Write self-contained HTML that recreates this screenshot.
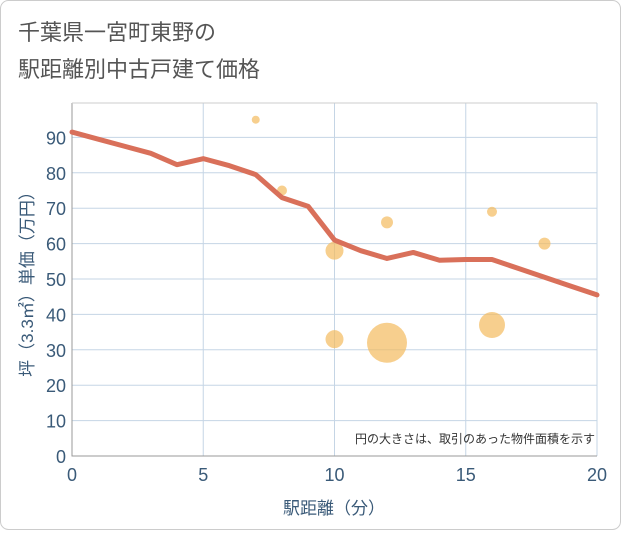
<!DOCTYPE html>
<html><head><meta charset="utf-8">
<style>
body{margin:0;background:#fff;}
#wrap{position:relative;width:621px;height:530px;font-family:"Liberation Sans","Noto Sans CJK JP",sans-serif;}
</style></head><body>
<div id="wrap">
<svg id="chart" width="621" height="530" xmlns="http://www.w3.org/2000/svg">
<rect x="0.5" y="0.5" width="620" height="529" rx="8" fill="#fff" stroke="#ccc"/>
<text x="18" y="40" font-size="22" fill="#555">千葉県一宮町東野の</text>
<text x="18" y="77" font-size="22" fill="#555">駅距離別中古戸建て価格</text>
<g id="grid"></g>
<g id="marks"></g>
<text x="595" y="443" font-size="12" fill="#333" text-anchor="end">円の大きさは、取引のあった物件面積を示す</text>
<text x="334" y="514" font-size="17" fill="#3a5a78" text-anchor="middle">駅距離（分）</text>
<text transform="translate(33,280) rotate(-90)" font-size="17" fill="#3a5a78" text-anchor="middle">坪（3.3㎡）単価（万円）</text>
</svg>
</div>
<script>
const xTicks=[0,5,10,15,20];
const yTicks=[0,10,20,30,40,50,60,70,80,90];
const lineX=[0,1,2,3,4,5,6,7,8,9,10,11,12,13,14,15,16,17,18,19,20];
const lineY=[91.5,89.5,87.5,85.5,82.3,84,82,79.5,73,70.5,61,58,55.8,57.5,55.3,55.5,55.5,53,50.5,48,45.5];
const bubX=[7,8,10,10,12,12,16,16,18];
const bubY=[95,75,58,33,66,32,69,37,60];
const bubR=[4,5,9,9,6,20,5,13,6];
const L=72,R=597,T=103,B=456;
const sx=v=>L+(v-0)/20*(R-L);
const sy=v=>B-v/10*35.4;
const NS='http://www.w3.org/2000/svg';
const g=document.getElementById('grid'),m=document.getElementById('marks');
function mk(tag,at,parent){const e=document.createElementNS(NS,tag);for(const k in at)e.setAttribute(k,at[k]);parent.appendChild(e);return e;}
yTicks.forEach(v=>{
 const l=mk('line',{x1:L,x2:R,y1:sy(v),y2:sy(v),stroke:'#c5d5e5','stroke-width':1},g);
 
 
 const t=mk('text',{x:L-6,y:sy(v)+7,'font-size':18,fill:'#3a5a78','text-anchor':'end'},g);
 t.textContent=v;
 
 
});
xTicks.forEach(v=>{
 const l=mk('line',{x1:sx(v),x2:sx(v),y1:T,y2:B,stroke:'#c5d5e5','stroke-width':1},g);
 
 
 const t=mk('text',{x:sx(v),y:B+25,'font-size':18,fill:'#3a5a78','text-anchor':'middle'},g);
 t.textContent=v;
 
 
});
const fr=mk('path',{d:`M${L} ${T}V${B}H${R}`,fill:'none',stroke:'#999','stroke-width':1},g);


const tp=mk('line',{x1:L,x2:R,y1:T,y2:T,stroke:'#ccc'},g);


bubX.forEach((x,i)=>{
 const c=mk('circle',{cx:sx(x),cy:sy(bubY[i]),r:bubR[i],fill:'#f3bb5e','fill-opacity':0.7},m);
 
 
});
const p=mk('polyline',{points:lineX.map((x,i)=>sx(x)+','+sy(lineY[i])).join(' '),fill:'none',stroke:'#d9705a','stroke-width':5,'stroke-linejoin':'round','stroke-linecap':'round'},m);


</script>
</body></html>
